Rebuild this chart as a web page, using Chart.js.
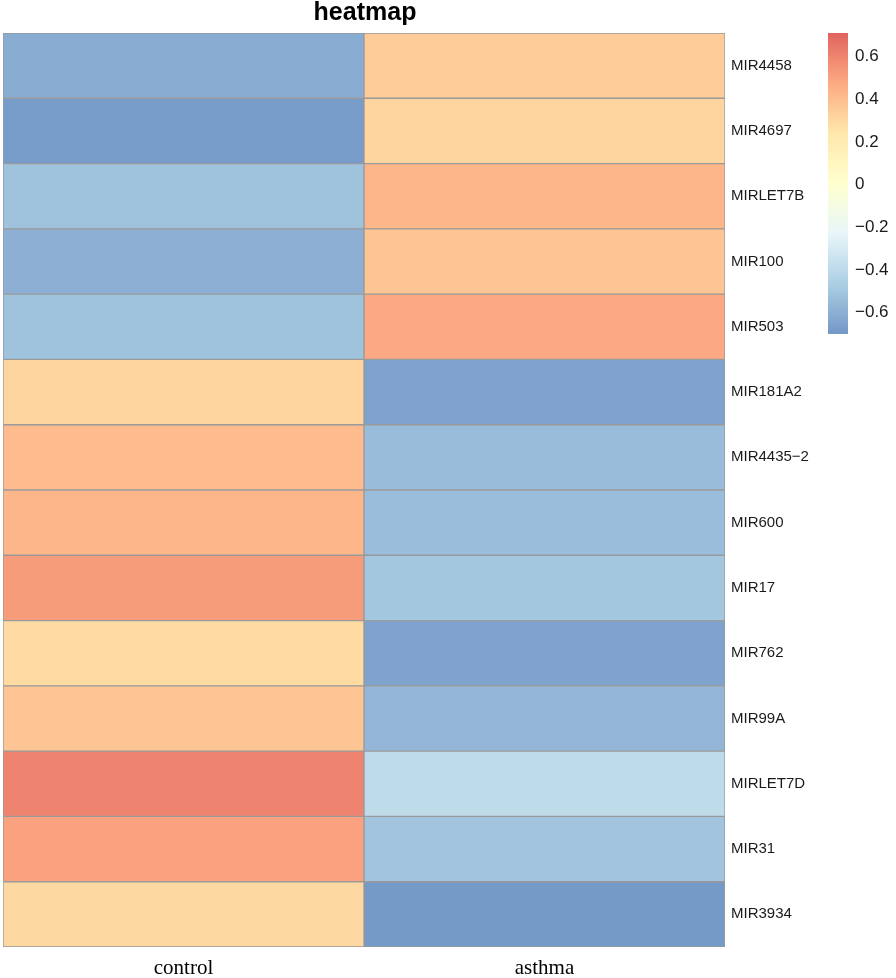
<!DOCTYPE html>
<html>
<head>
<meta charset="utf-8">
<script src="https://cdn.jsdelivr.net/npm/chart.js@4.4.1/dist/chart.umd.min.js"></script>
<style>
  html, body { margin: 0; padding: 0; background: #fff; }
  #wrap { width: 896px; height: 978px; position: relative; }
</style>
</head>
<body>
<div id="wrap"><canvas id="heat"></canvas></div>
<script>
// rows (miRNAs) and columns (groups)
const rowLabels = ['MIR4458', 'MIR4697', 'MIRLET7B', 'MIR100', 'MIR503', 'MIR181A2', 'MIR4435\u22122',
  'MIR600', 'MIR17', 'MIR762', 'MIR99A', 'MIRLET7D', 'MIR31', 'MIR3934'];
const colNames = ['control', 'asthma'];

// cell values
const controlValues = [-0.61, -0.68, -0.52, -0.60, -0.52, 0.31, 0.41, 0.43, 0.52, 0.29, 0.375, 0.60, 0.50, 0.30];
const asthmaValues = [0.345, 0.31, 0.43, 0.375, 0.48, -0.65, -0.545, -0.54, -0.50, -0.65, -0.57, -0.395, -0.51, -0.69];

// colour legend
const legendTicks = [0.6, 0.4, 0.2, 0, -0.2, -0.4, -0.6];
const scaleMin = -0.70;
const scaleMax = 0.71;
const palette = ['#4575B4', '#91BFDB', '#E0F3F8', '#FFFFBF', '#FEE090', '#FC8D59', '#D73027'];

function hexToRgb(h) {
  return [parseInt(h.slice(1, 3), 16), parseInt(h.slice(3, 5), 16), parseInt(h.slice(5, 7), 16)];
}

// interpolate the palette and wash it out a little towards white, like the picture
function colorFor(v) {
  let t = (v - scaleMin) / (scaleMax - scaleMin);
  t = Math.max(0, Math.min(1, t));
  const pos = t * (palette.length - 1);
  const i = Math.min(Math.floor(pos), palette.length - 2);
  const f = pos - i;
  const a = hexToRgb(palette[i]);
  const b = hexToRgb(palette[i + 1]);
  const rgb = a.map((c, k) => c + (b[k] - c) * f).map(c => Math.round(c * 0.75 + 255 * 0.25));
  return `rgb(${rgb[0]},${rgb[1]},${rgb[2]})`;
}

const columnValues = [controlValues, asthmaValues];

// title + colour bar drawn next to the grid
const extrasPlugin = {
  id: 'extras',
  afterDraw(chart) {
    const ctx = chart.ctx;
    const area = chart.chartArea;
    ctx.save();

    // title
    ctx.fillStyle = '#000';
    ctx.font = 'bold 25px "Liberation Sans", Arial, sans-serif';
    ctx.textAlign = 'center';
    ctx.textBaseline = 'middle';
    ctx.fillText('heatmap', (area.left + area.right) / 2 + 1, 13);

    // colour bar
    const barX = 828, barW = 20, barTop = 33, barBottom = 334;
    const grad = ctx.createLinearGradient(0, barBottom, 0, barTop);
    for (let k = 0; k <= 50; k++) {
      const v = scaleMin + (scaleMax - scaleMin) * k / 50;
      grad.addColorStop(k / 50, colorFor(v));
    }
    ctx.fillStyle = grad;
    ctx.fillRect(barX, barTop, barW, barBottom - barTop);

    ctx.fillStyle = '#1a1a1a';
    ctx.font = '17px "Liberation Sans", Arial, sans-serif';
    ctx.textAlign = 'left';
    legendTicks.forEach(v => {
      const y = barBottom - (v - scaleMin) / (scaleMax - scaleMin) * (barBottom - barTop);
      const txt = v < 0 ? '\u2212' + Math.abs(v) : String(v);
      ctx.fillText(txt, 855, y);
    });
    ctx.restore();
  }
};

const datasets = colNames.map((name, c) => ({
  label: name,
  data: rowLabels.map(() => 1),
  backgroundColor: columnValues[c].map(colorFor),
  borderColor: '#9a9a9a',
  borderWidth: 1,
  borderSkipped: false,
  barPercentage: 1,
  categoryPercentage: 1
}));

new Chart(document.getElementById('heat'), {
  type: 'bar',
  data: { labels: rowLabels, datasets: datasets },
  options: {
    indexAxis: 'y',
    responsive: true,
    maintainAspectRatio: false,
    animation: false,
    layout: { padding: { left: 3, top: 33, right: 0, bottom: 0 } },
    plugins: {
      legend: { display: false },
      tooltip: { enabled: false }
    },
    scales: {
      x: {
        stacked: true,
        min: 0,
        max: colNames.length,
        grid: { display: false, drawTicks: false },
        border: { display: false },
        afterBuildTicks: axis => { axis.ticks = colNames.map((_, i) => ({ value: i + 0.5 })); },
        afterFit: axis => { axis.height = 31; },
        ticks: {
          autoSkip: false,
          maxRotation: 0,
          padding: 9,
          color: '#000',
          font: { family: '"Liberation Serif", "Times New Roman", serif', size: 21 },
          callback: (v, i) => colNames[i]
        }
      },
      y: {
        stacked: true,
        position: 'right',
        grid: { display: false, drawTicks: false },
        border: { display: false },
        afterFit: axis => { axis.width = 171; },
        ticks: {
          padding: 6,
          color: '#1a1a1a',
          font: { family: '"Liberation Sans", Arial, sans-serif', size: 15 }
        }
      }
    }
  },
  plugins: [extrasPlugin]
});
</script>
</body>
</html>
